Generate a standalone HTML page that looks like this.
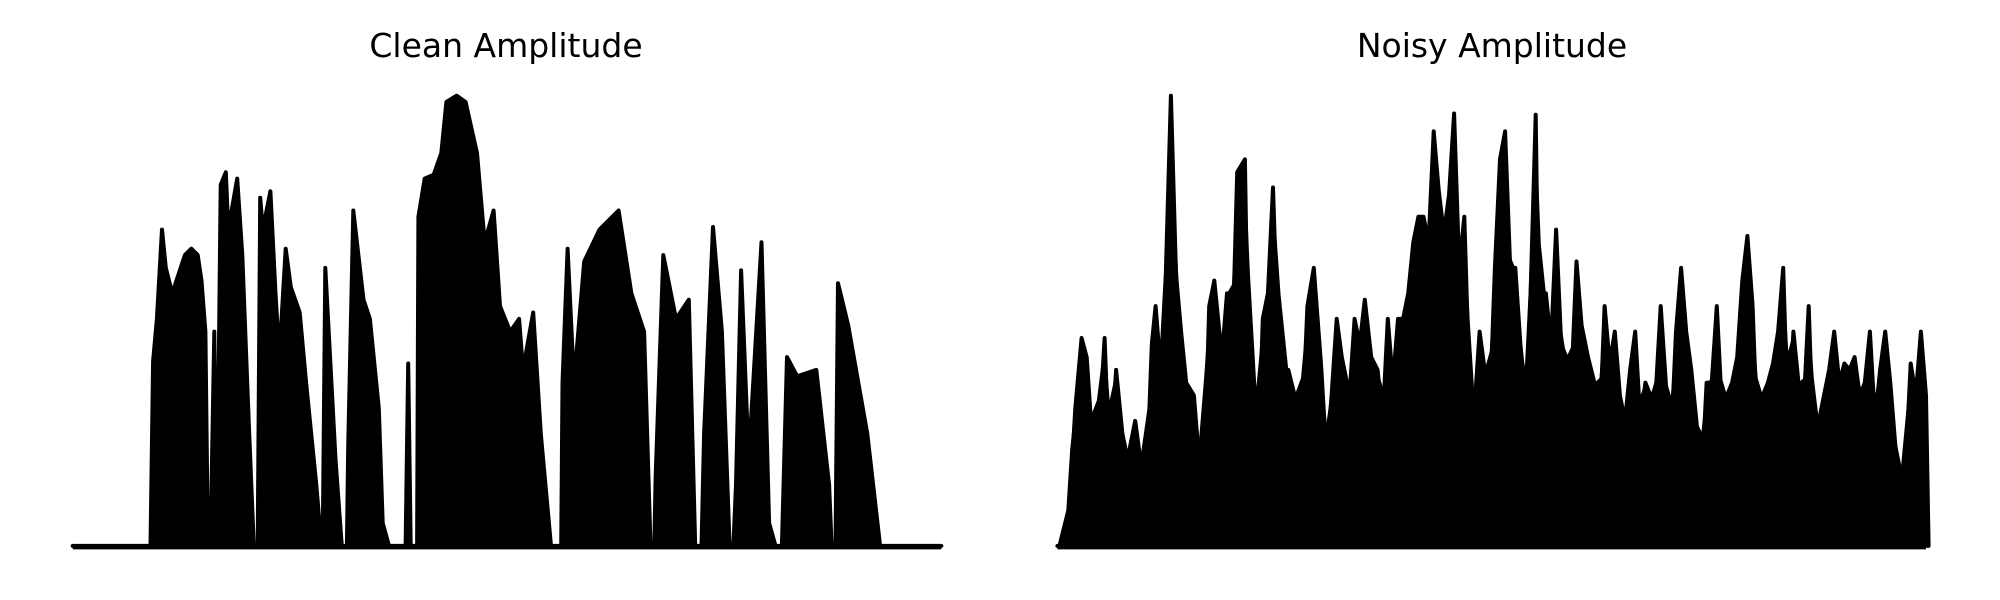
<!DOCTYPE html>
<html><head><meta charset="utf-8">
<style>
html,body{margin:0;padding:0;background:#fff;}
svg{display:block;}
</style></head>
<body>
<svg id="chart" width="2000" height="600" viewBox="0 0 2000 600" xmlns="http://www.w3.org/2000/svg">
<text x="506" y="57" text-anchor="middle" font-family="DejaVu Sans, Liberation Sans, sans-serif" font-size="33" fill="#000">Clean Amplitude</text>
<text x="1492" y="57" text-anchor="middle" font-family="DejaVu Sans, Liberation Sans, sans-serif" font-size="33" fill="#000">Noisy Amplitude</text>
<g id="clean"></g>
<g id="noisy"></g>
</svg>
<script>
const cleanTimes=[0,61,63,66,70,73,78,88,93,98,101,104,106,108,111,113,116,120,122,129,133,138,142,145,147,149,155,159,162,167,171,178,183,191,195,196,198,206,211,215,216,220,228,233,240,243,248,261,263,265,270,271,276,283,289,293,301,308,317,323,330,335,343,350,353,361,367,375,383,384,388,393,401,413,428,438,448,453,456,457,463,473,483,488,493,495,502,509,515,518,520,524,530,540,546,551,556,560,568,583,593,595,598,600,608,623,633,681];
const cleanAmps=[0,0,145,178,248,218,198,228,233,228,208,168,0,0,168,0,283,293,248,288,228,98,0,0,273,248,278,198,148,233,203,183,128,48,0,0,218,68,0,0,78,263,193,178,108,18,0,0,143,0,0,258,288,291,308,348,353,348,308,238,263,188,168,178,138,183,88,0,0,128,233,128,223,248,263,198,168,0,0,53,228,178,193,0,0,88,250,168,0,0,48,216,68,238,18,0,0,148,133,138,48,0,0,206,173,88,0,0];
const noisyTimes=[0,7,10,14,19,23,27,31,37,41,46,51,55,61,65,71,74,77,81,85,89,93,97,101,107,111,115,119,123,129,133,137,141,147,151,156,161,165,169,175,181,186,191,196,201,207,211,215,219,223,229,233,237,241,246,251,255,259,263,267,271,275,279,283,287,291,295,299,303,307,311,315,319,323,327,331,335,339,343,347,351,355,359,363,367,371,375,379,383,387,391,395,399,403,407,411,416,421,425,429,433,437,441,445,449,453,457,461,465,469,473,477,481,485,489,493,497,501,505,509,513,517,521,525,529,533,537,541,545,549,553,557,561,565,569,573,577,581,585,589,593,597,601,605,609,613,617,621,625,629,633,637,641,645,649,653,657,661,665,669,673,677,681,683];
const noisyAmps=[0,0,40,108,163,148,88,58,163,58,138,88,68,98,68,78,158,188,138,213,353,213,168,128,118,68,48,188,208,148,198,148,293,303,58,28,178,198,281,98,138,118,68,188,218,138,68,118,178,148,118,178,158,193,148,138,98,178,128,178,178,198,238,258,258,238,325,278,245,275,339,218,258,128,108,168,138,108,218,303,325,218,218,158,118,198,338,48,198,158,248,158,148,128,223,173,148,128,88,188,143,168,118,98,138,168,98,128,118,118,188,128,78,168,218,168,138,98,48,128,128,188,108,118,128,148,208,243,188,78,118,128,143,168,218,88,168,128,108,188,68,98,118,138,168,128,143,138,148,118,128,168,98,138,168,128,78,58,63,143,118,168,118,0];
const tMax=681, aMax=353, S=2000/1568;
const NS='http://www.w3.org/2000/svg';
function pathFor(xs,ys,times,vals){
  let d='M'+xs(times[0])+','+ys(0);
  for(let i=0;i<times.length;i++) d+=' L'+xs(times[i]).toFixed(1)+','+ys(vals[i]).toFixed(1);
  d+=' L'+xs(times[times.length-1])+','+ys(0)+' Z';
  return d;
}
function draw(gid,x0,times,amps,name,fillValleys){
  const g=document.getElementById(gid);
  const xs=t=>x0+t*(tMax*S)/tMax;
  const ys=a=>428*S-a*(aMax*S)/aMax;
  const p=document.createElementNS(NS,'path');
  p.setAttribute('d',pathFor(xs,ys,times,amps));p.setAttribute('fill','#000');p.setAttribute('stroke','#000');
  p.setAttribute('stroke-width','4');p.setAttribute('stroke-linejoin','round');
  
  
  g.appendChild(p);
  if(fillValleys){
    const inner=amps.map((a,i)=>{
      if(i===0||i===amps.length-1) return a;
      return Math.max(a,0.7*Math.max(amps[i-1],amps[i+1]));
    });
    const q=document.createElementNS(NS,'path');
    q.setAttribute('d',pathFor(xs,ys,times,inner));q.setAttribute('fill','#000');
    
    
    g.appendChild(q);
  }
  const b=document.createElementNS(NS,'line');
  b.setAttribute('x1',xs(0));b.setAttribute('x2',xs(tMax));
  b.setAttribute('y1',ys(0)+1);b.setAttribute('y2',ys(0)+1);
  b.setAttribute('stroke','#000');b.setAttribute('stroke-width','5');
  
  
  g.appendChild(b);
}
draw('clean',57*S,cleanTimes,cleanAmps,'clean',false);
draw('noisy',829*S,noisyTimes,noisyAmps,'noisy',true);
</script>
</body></html>
